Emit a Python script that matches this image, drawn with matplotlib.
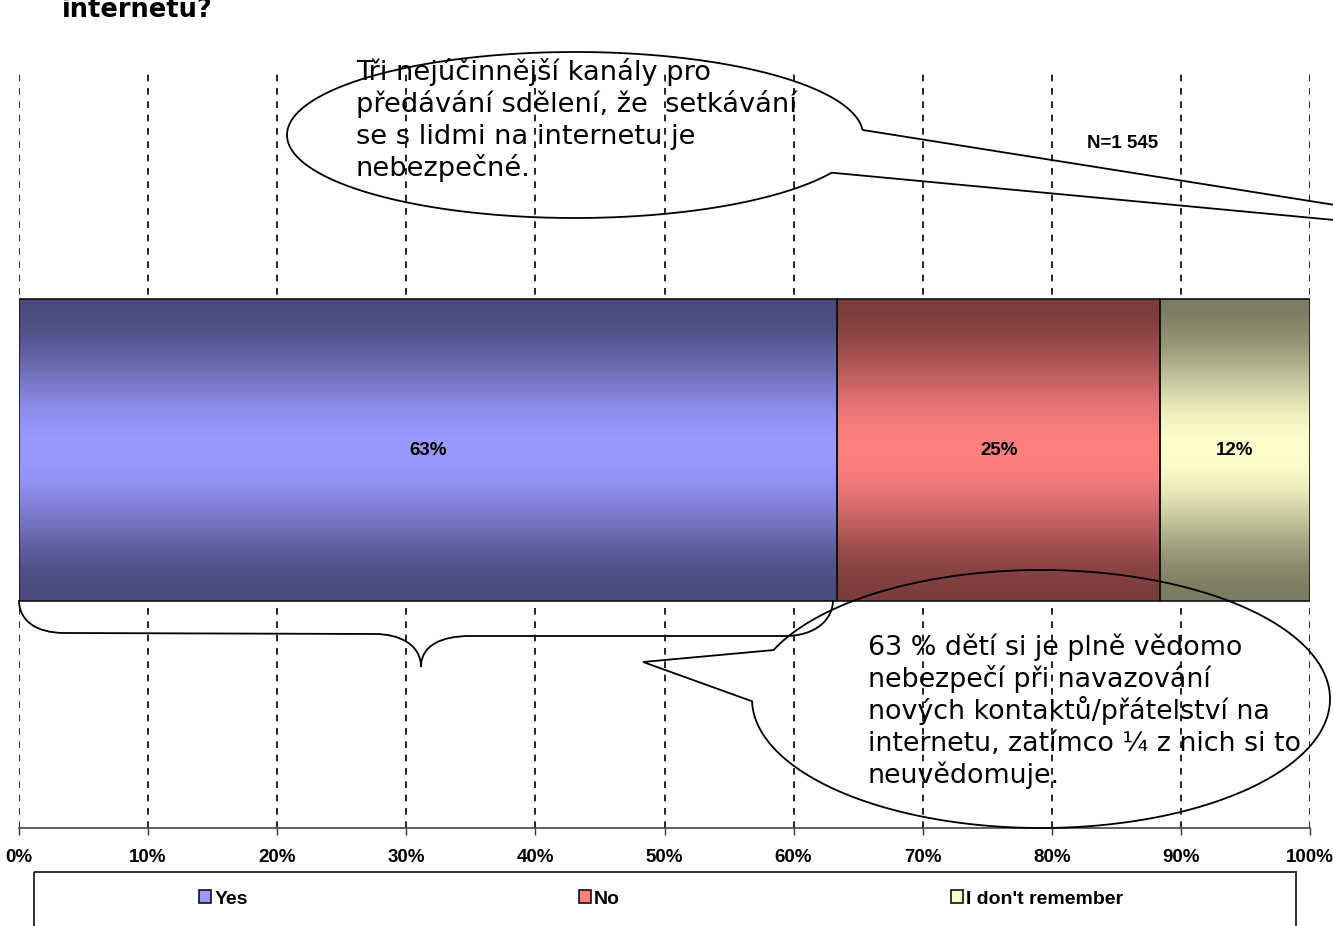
import numpy as np
import matplotlib
matplotlib.use("Agg")
import matplotlib.pyplot as plt
from matplotlib.patches import PathPatch, Rectangle
from matplotlib.path import Path
from matplotlib.transforms import Affine2D
import matplotlib.colors as mcolors

# ---------------- data ----------------
categories = ["Yes", "No", "I don't remember"]
values = [63.4, 25.0, 11.6]
value_labels = ["63%", "25%", "12%"]
xticks = list(range(0, 101, 10))
xtick_labels = [f"{t}%" for t in xticks]
colors_light = ["#9999FF", "#FF8080", "#FFFFCC"]
colors_dark = ["#4A4A7C", "#7C3C3C", "#7C7C62"]
title_text = "internetu?"
note_n = "N=1 545"
callout1_lines = ["Tři nejúčinnější kanály pro",
                  "předávání sdělení, že  setkávání",
                  "se s lidmi na internetu je",
                  "nebezpečné."]
callout2_lines = ["63 % dětí si je plně vědomo",
                  "nebezpečí při navazování",
                  "nových kontaktů/přátelství na",
                  "internetu, zatímco ¼ z nich si to",
                  "neuvědomuje."]

W, H = 1333, 926
fig = plt.figure(figsize=(W / 100, H / 100), dpi=100)
fig.patch.set_facecolor("white")

# pixel transform (origin top-left, y down)
px = Affine2D().scale(1 / W, -1 / H).translate(0, 1) + fig.transFigure

ax = fig.add_axes([19 / W, 1 - 828 / H, (1310 - 19) / W, (828 - 72) / H])
ax.set_xlim(0, 100)
ax.set_ylim(0, 1)

lab_font = dict(family=["Liberation Sans", "DejaVu Sans"], weight="bold")

lefts = np.concatenate([[0], np.cumsum(values)[:-1]])
bar_y, bar_h = 0.5, 0.4
bars = ax.barh(bar_y, values, left=lefts, height=bar_h, color=colors_light,
               edgecolor="#111111", linewidth=1.2, zorder=3)

# legend (created before bars lose their face colour)
leg = fig.legend(handles=list(bars.patches), labels=categories,
                 loc="center left", bbox_to_anchor=(199 / W, 1 - 899 / H),
                 ncol=3, frameon=False, borderpad=0, borderaxespad=0,
                 handlelength=0.62, handleheight=0.62, handletextpad=0.18,
                 columnspacing=17.0,
                 prop=dict(family="Liberation Sans", weight="bold", size=14))

# gradient fills (dark at top/bottom edges, light in the middle)
t = np.linspace(0, 1, 256)
f = np.sin(np.pi * t) ** 2
for patch, cl, cd in zip(bars.patches, colors_light, colors_dark):
    c1 = np.array(mcolors.to_rgb(cd))
    c2 = np.array(mcolors.to_rgb(cl))
    grad = c1[None, :] * (1 - f[:, None]) + c2[None, :] * f[:, None]
    img = grad[:, None, :]
    x0 = patch.get_x(); w = patch.get_width()
    y0 = patch.get_y(); h = patch.get_height()
    im = ax.imshow(img, extent=(x0, x0 + w, y0, y0 + h), aspect="auto",
                   origin="lower", zorder=2.5, interpolation="bilinear")
    im.set_clip_path(patch)
    patch.set_facecolor("none")

for patch, lab in zip(bars.patches, value_labels):
    ax.text(patch.get_x() + patch.get_width() / 2, bar_y, lab,
            ha="center", va="center", fontsize=13.5, zorder=4, **lab_font)

# axes styling
ax.set_xticks(xticks)
ax.set_xticklabels(xtick_labels)
for lbl in ax.get_xticklabels():
    lbl.set_fontfamily(["Liberation Sans", "DejaVu Sans"])
    lbl.set_fontweight("bold")
ax.tick_params(axis="x", direction="out", length=5, width=1, pad=10,
               labelsize=13.5, color="#333333")
ax.set_yticks([])
for s in ["top", "left", "right"]:
    ax.spines[s].set_visible(False)
ax.spines["bottom"].set_color("#444444")
ax.spines["bottom"].set_linewidth(1.2)
ax.grid(axis="x", color="black", linestyle=(0, (4, 4)), linewidth=1.2, zorder=1)
ax.set_axisbelow(True)

# title (cut off at top, as in the source)
fig.text(62, 17, title_text, transform=px, ha="left", va="baseline",
         fontsize=18.5, fontweight="bold", family="DejaVu Sans")

# N note
fig.text(1123, 144, note_n, transform=px, ha="center", va="center",
         fontsize=13.5, **lab_font)


def callout(cx, cy, rx, ry, t_start, t_end, tip):
    ts = np.radians(np.linspace(t_start, t_end, 400))
    xs = cx + rx * np.cos(ts)
    ys = cy - ry * np.sin(ts)
    verts = list(zip(xs, ys)) + [tip, (xs[0], ys[0])]
    codes = [Path.MOVETO] + [Path.LINETO] * (len(verts) - 2) + [Path.CLOSEPOLY]
    return PathPatch(Path(verts, codes), transform=px, facecolor="none",
                     edgecolor="black", linewidth=1.3, clip_on=False, zorder=10)


# callout 1
fig.patches.append(callout(575, 135, 288, 83, 3.5, 333.0, (1568, 242)))
for i, line in enumerate(callout1_lines):
    fig.text(356, 80 + 32 * i, line, transform=px, ha="left", va="baseline",
             fontsize=19.6, family="DejaVu Sans")

# callout 2
fig.patches.append(callout(1041, 699, 289, 129, 181, 517.7, (643, 662)))
for i, line in enumerate(callout2_lines):
    fig.text(868, 655 + 32 * i, line, transform=px, ha="left", va="baseline",
             fontsize=19.4, family="DejaVu Sans")

# brace under "Yes"
bv = [(19, 600), (19, 620), (35, 633), (65, 633),
      (375, 634),
      (400, 634), (421, 645), (421, 667),
      (421, 645), (442, 636), (470, 636),
      (785, 636),
      (815, 636), (833, 620), (833, 600)]
bc = [Path.MOVETO, Path.CURVE4, Path.CURVE4, Path.CURVE4,
      Path.LINETO,
      Path.CURVE4, Path.CURVE4, Path.CURVE4,
      Path.CURVE4, Path.CURVE4, Path.CURVE4,
      Path.LINETO,
      Path.CURVE4, Path.CURVE4, Path.CURVE4]
fig.patches.append(PathPatch(Path(bv, bc), transform=px, facecolor="none",
                             edgecolor="black", linewidth=1.3, zorder=10))

# legend frame (extends past bottom edge)
fig.patches.append(Rectangle((34, 872), 1296 - 34, 120, transform=px,
                             facecolor="none", edgecolor="#222222",
                             linewidth=1.3, zorder=5))

fig.savefig("out.png", dpi=100)
